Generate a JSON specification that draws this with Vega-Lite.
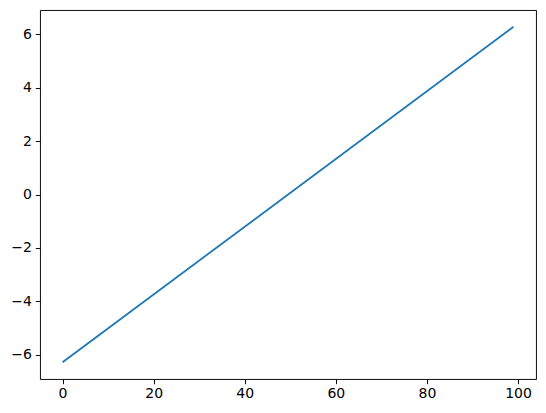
{
  "$schema": "https://vega.github.io/schema/vega-lite/v6.json",
  "width": 496,
  "height": 369,
  "autosize": {"type": "none"},
  "padding": {"left": 40, "top": 10, "right": 10, "bottom": 34},
  "background": "white",
  "data": {
    "values": [
      {"x": 0, "y": -6.2832},
      {"x": 99, "y": 6.2832}
    ]
  },
  "mark": {"type": "line", "color": "#1f77b4", "strokeWidth": 1.8, "clip": true},
  "encoding": {
    "x": {
      "field": "x",
      "type": "quantitative",
      "scale": {"domain": [-4.95, 103.95], "nice": false, "zero": false},
      "axis": {"values": [0, 20, 40, 60, 80, 100], "title": null, "labelPadding": 3}
    },
    "y": {
      "field": "y",
      "type": "quantitative",
      "scale": {"domain": [-6.9115, 6.9115], "nice": false, "zero": false},
      "axis": {
        "values": [-6, -4, -2, 0, 2, 4, 6],
        "title": null,
        "labelPadding": 4,
        "labelExpr": "replace(datum.label, '-', '\u2212')"
      }
    }
  },
  "config": {
    "view": {"stroke": "black", "strokeWidth": 0.95},
    "axis": {
      "grid": false,
      "domain": false,
      "tickColor": "black",
      "tickSize": 4.7,
      "tickWidth": 0.95,
      "labelFont": "DejaVu Sans",
      "labelFontSize": 14,
      "labelColor": "black",
      "format": "d"
    }
  }
}
